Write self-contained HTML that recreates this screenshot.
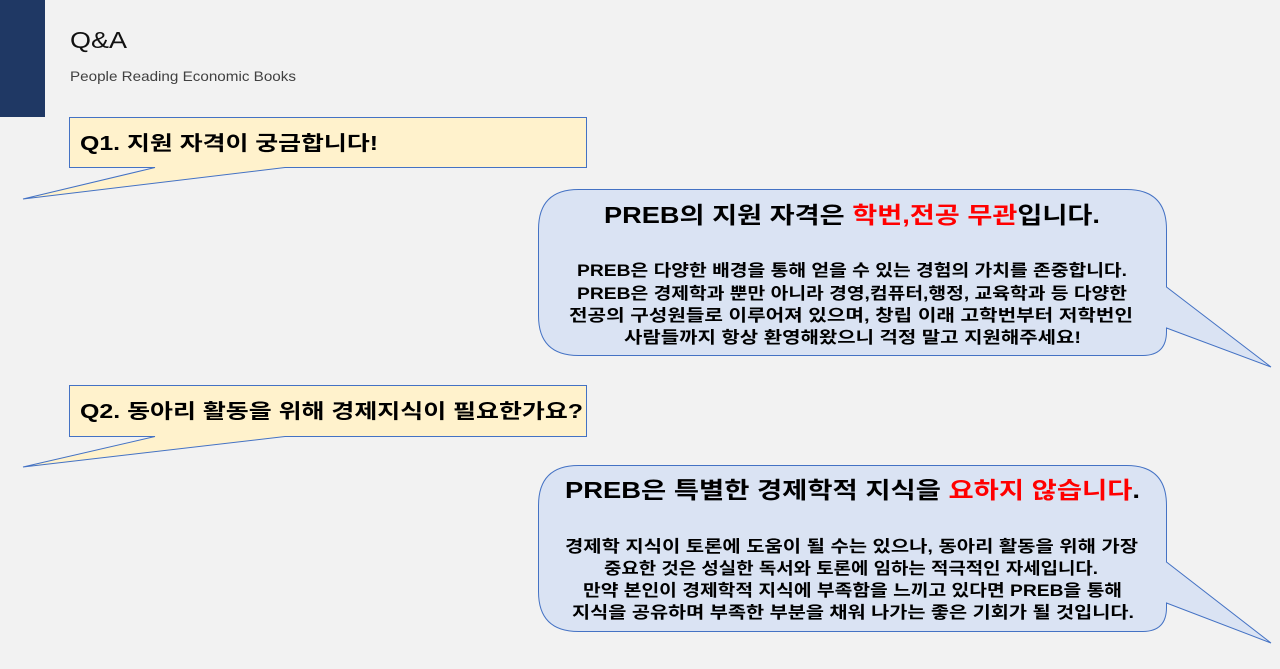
<!DOCTYPE html>
<html><head><meta charset="utf-8"><style>
html,body{margin:0;padding:0;background:#f2f2f2;}
svg{display:block;}
text{font-family:"Liberation Sans","Noto Sans CJK KR",sans-serif;}
</style></head><body>
<svg width="1280" height="669" viewBox="0 0 1280 669" xmlns="http://www.w3.org/2000/svg">
<rect width="1280" height="669" fill="#f2f2f2"/>
<rect x="0" y="0" width="45" height="117" fill="#1f3864"/>
<text x="70" y="48" font-size="23" fill="#111" textLength="57" lengthAdjust="spacingAndGlyphs">Q&amp;A</text>
<text x="70" y="81" font-size="14" fill="#404040" textLength="226" lengthAdjust="spacingAndGlyphs">People Reading Economic Books</text>

<!-- Q1 -->
<path d="M69.5,117.5 H586.5 V167.5 H285 L23,199 L155,167.5 H69.5 Z" fill="#fff2cc" stroke="#4472c4" stroke-width="1"/>
<text x="80" y="150" font-size="20" font-weight="bold" fill="#000" textLength="298" lengthAdjust="spacingAndGlyphs">Q1. 지원 자격이 궁금합니다!</text>

<!-- A1 -->
<path d="M578.5,189.5 H1126.5 Q1166.5,189.5 1166.5,229.5 V287 L1271,367 L1166.5,328 V331.5 Q1166.5,355.5 1142.5,355.5 H578.5 Q538.5,355.5 538.5,315.5 V229.5 Q538.5,189.5 578.5,189.5 Z" fill="#dae3f3" stroke="#4472c4" stroke-width="1"/>
<text x="604" y="223" font-size="23" font-weight="bold" fill="#000" textLength="496" lengthAdjust="spacingAndGlyphs">PREB의 지원 자격은 <tspan fill="#ff0000">학번,전공 무관</tspan>입니다.</text>
<g font-size="16.5" font-weight="bold" fill="#000">
<text x="577" y="276" textLength="550" lengthAdjust="spacingAndGlyphs">PREB은 다양한 배경을 통해 얻을 수 있는 경험의 가치를 존중합니다.</text>
<text x="577" y="299" textLength="550" lengthAdjust="spacingAndGlyphs">PREB은 경제학과 뿐만 아니라 경영,컴퓨터,행정, 교육학과 등 다양한</text>
<text x="569" y="321" textLength="564" lengthAdjust="spacingAndGlyphs">전공의 구성원들로 이루어져 있으며, 창립 이래 고학번부터 저학번인</text>
<text x="624" y="343" textLength="457" lengthAdjust="spacingAndGlyphs">사람들까지 항상 환영해왔으니 걱정 말고 지원해주세요!</text>
</g>

<!-- Q2 -->
<path d="M69.5,385.5 H586.5 V436.5 H285 L23,467 L155,436.5 H69.5 Z" fill="#fff2cc" stroke="#4472c4" stroke-width="1"/>
<text x="80" y="418" font-size="20" font-weight="bold" fill="#000" textLength="503" lengthAdjust="spacingAndGlyphs">Q2. 동아리 활동을 위해 경제지식이 필요한가요?</text>

<!-- A2 -->
<path d="M578.5,465.5 H1126.5 Q1166.5,465.5 1166.5,505.5 V562 L1271,643 L1166.5,603 V607.5 Q1166.5,631.5 1142.5,631.5 H578.5 Q538.5,631.5 538.5,591.5 V505.5 Q538.5,465.5 578.5,465.5 Z" fill="#dae3f3" stroke="#4472c4" stroke-width="1"/>
<text x="565" y="498" font-size="23" font-weight="bold" fill="#000" textLength="575" lengthAdjust="spacingAndGlyphs">PREB은 특별한 경제학적 지식을 <tspan fill="#ff0000">요하지 않습니다</tspan>.</text>
<g font-size="16.5" font-weight="bold" fill="#000">
<text x="565" y="552" textLength="573" lengthAdjust="spacingAndGlyphs">경제학 지식이 토론에 도움이 될 수는 있으나, 동아리 활동을 위해 가장</text>
<text x="604" y="574" textLength="494" lengthAdjust="spacingAndGlyphs">중요한 것은 성실한 독서와 토론에 임하는 적극적인 자세입니다.</text>
<text x="583" y="596" textLength="539" lengthAdjust="spacingAndGlyphs">만약 본인이 경제학적 지식에 부족함을 느끼고 있다면 PREB을 통해</text>
<text x="572" y="618" textLength="562" lengthAdjust="spacingAndGlyphs">지식을 공유하며 부족한 부분을 채워 나가는 좋은 기회가 될 것입니다.</text>
</g>
</svg>
</body></html>
